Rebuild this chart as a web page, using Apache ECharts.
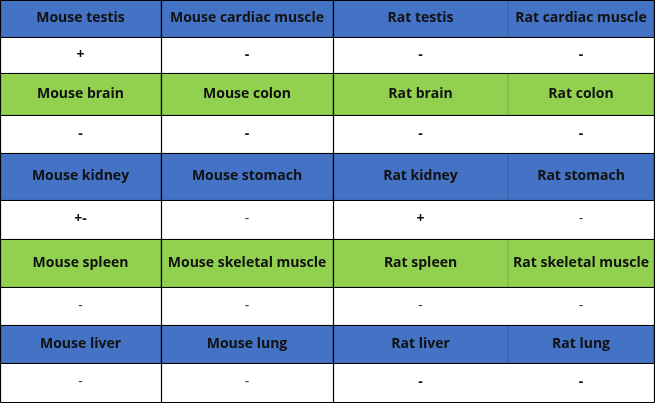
<!DOCTYPE html>
<html>
<head>
<meta charset="utf-8">
<script src="https://cdn.jsdelivr.net/npm/echarts@6/dist/echarts.min.js"></script>
<style>html,body{margin:0;padding:0;background:#fff}#chart{width:655px;height:403px}</style>
</head>
<body>
<div id="chart"></div>
<script>
// table content, row by row
const tissueRows = [
    ['Mouse testis', 'Mouse cardiac muscle', 'Rat testis', 'Rat cardiac muscle'],
    ['Mouse brain', 'Mouse colon', 'Rat brain', 'Rat colon'],
    ['Mouse kidney', 'Mouse stomach', 'Rat kidney', 'Rat stomach'],
    ['Mouse spleen', 'Mouse skeletal muscle', 'Rat spleen', 'Rat skeletal muscle'],
    ['Mouse liver', 'Mouse lung', 'Rat liver', 'Rat lung']
];
const resultRows = [
    ['+', '-', '-', '-'],
    ['-', '-', '-', '-'],
    ['+-', '-', '+', '-'],
    ['-', '-', '-', '-'],
    ['-', '-', '-', '-']
];
const resultBold = [
    [1, 1, 1, 1],
    [1, 1, 1, 1],
    [1, 0, 1, 0],
    [0, 0, 0, 0],
    [0, 0, 1, 1]
];
const headerColors = ['#4472C4', '#92D050', '#4472C4', '#92D050', '#4472C4'];

// layout (pixel grid of the original table)
const colEdges = [0, 161, 333, 508, 654];
const rowEdges = [0, 37, 73, 115, 153, 200, 239, 287, 325, 363, 402];

const cells = [];
tissueRows.forEach((row, r) => {
    row.forEach((name, c) => {
        cells.push({ r: r * 2, c: c, text: name, fill: headerColors[r], bold: true });
        cells.push({ r: r * 2 + 1, c: c, text: resultRows[r][c], fill: '#ffffff', bold: !!resultBold[r][c] });
    });
});

const chart = echarts.init(document.getElementById('chart'));

function renderCell(params, api) {
    const d = cells[params.dataIndex];
    const p0 = api.coord([colEdges[d.c], rowEdges[d.r]]);
    const p1 = api.coord([colEdges[d.c + 1], rowEdges[d.r + 1]]);
    const colored = d.fill !== '#ffffff';
    return {
        type: 'group',
        children: [{
            type: 'rect',
            shape: { x: p0[0], y: p0[1], width: p1[0] - p0[0], height: p1[1] - p0[1] },
            style: { fill: d.fill, stroke: colored ? 'rgba(0,0,0,0.12)' : null, lineWidth: 1 }
        }, {
            type: 'text',
            style: {
                x: (p0[0] + p1[0]) / 2, y: (p0[1] + p1[1]) / 2,
                text: d.text, align: 'center', verticalAlign: 'middle',
                font: (d.bold ? 'bold ' : '') + '14px "Open Sans", "DejaVu Sans", sans-serif',
                fill: d.bold ? '#111' : '#333'
            }
        }]
    };
}

// grid lines: full horizontals, verticals except the faint one between rat columns
const lineSegs = [];
rowEdges.forEach(y => lineSegs.push([0, y, colEdges[4], y]));
[0, 1, 2, 4].forEach(i => lineSegs.push([colEdges[i], 0, colEdges[i], rowEdges[10]]));

function renderLine(params, api) {
    const s = lineSegs[params.dataIndex];
    const a = api.coord([s[0], s[1]]);
    const b = api.coord([s[2], s[3]]);
    return {
        type: 'line',
        shape: { x1: a[0] + 0.5, y1: a[1] + 0.5, x2: b[0] + 0.5, y2: b[1] + 0.5 },
        style: { stroke: '#000', lineWidth: 1.2 }
    };
}

chart.setOption({
    animation: false,
    grid: { left: 0, right: 0, top: 0, bottom: 0 },
    xAxis: { type: 'value', min: 0, max: 655, show: false },
    yAxis: { type: 'value', min: 0, max: 403, inverse: true, show: false },
    series: [
        { type: 'custom', renderItem: renderCell, data: cells.map((d, i) => i), silent: true },
        { type: 'custom', renderItem: renderLine, data: lineSegs.map((d, i) => i), silent: true, z: 5 }
    ]
});
</script>
</body>
</html>
